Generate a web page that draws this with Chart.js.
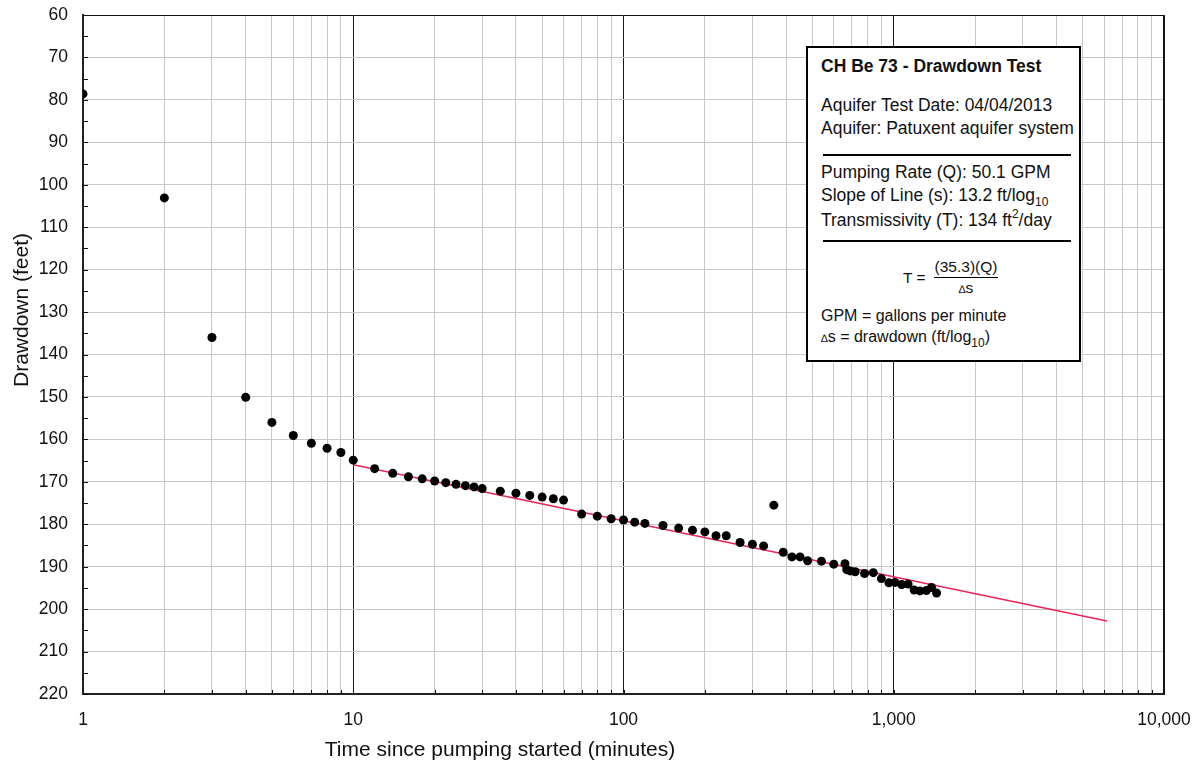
<!DOCTYPE html>
<html>
<head>
<meta charset="utf-8">
<title>CH Be 73 - Drawdown Test</title>
<script src="https://cdn.jsdelivr.net/npm/chart.js@4.4.1/dist/chart.umd.min.js"></script>
<style>
  body { margin: 0; background: #fff; font-family: Arial, "Liberation Sans", sans-serif; }
  #wrap { position: relative; width: 1200px; height: 769px; }
  #infoBox {
    position: absolute; left: 806px; top: 46px; width: 275px; height: 316px;
    box-sizing: border-box; border: 2px solid #000; background: #fff; color: #111;
  }
  #infoBox .ln { position: absolute; left: 13px; white-space: nowrap; font-size: 17.5px; line-height: 22px; }
  #infoBox .sm { font-size: 16px; line-height: 20px; }
  #infoBox .b { font-weight: bold; }
  #infoBox .rule { position: absolute; left: 15px; width: 248px; height: 2px; background: #000; }
  #infoBox sub, #infoBox sup { font-size: 12px; line-height: 0; }
  #infoBox sub { vertical-align: -5px; }
  #infoBox sup { vertical-align: 8px; }
  .frac { position: absolute; font-size: 15.5px; line-height: 18px; white-space: nowrap; }
  .tri { font-size: 11px; }
</style>
</head>
<body>
<div id="wrap">
  <canvas id="drawdownChart"></canvas>
  <div id="infoBox">
    <div class="ln b" style="top:7px">CH Be 73 - Drawdown Test</div>
    <div class="ln" style="top:46px">Aquifer Test Date: 04/04/2013</div>
    <div class="ln" style="top:69px">Aquifer: Patuxent aquifer system</div>
    <div class="rule" style="top:106px"></div>
    <div class="ln" style="top:113px">Pumping Rate (Q): 50.1 GPM</div>
    <div class="ln" style="top:136px">Slope of Line (s): 13.2 ft/log<sub>10</sub></div>
    <div class="ln" style="top:161px">Transmissivity (T): 134 ft<sup>2</sup>/day</div>
    <div class="rule" style="top:192px"></div>
    <div class="frac" style="top:221px; left:95px">T =</div>
    <div class="frac" style="top:210px; left:126px; width:64px; text-align:center">(35.3)(Q)</div>
    <div style="position:absolute; top:229px; left:126px; width:64px; height:1px; background:#000"></div>
    <div class="frac" style="top:231px; left:126px; width:64px; text-align:center"><span class="tri">&#8710;</span>s</div>
    <div class="ln sm" style="top:258px">GPM = gallons per minute</div>
    <div class="ln sm" style="top:279px"><span class="tri">&#8710;</span>s = drawdown (ft/log<sub>10</sub>)</div>
  </div>
</div>
<script>
// measured drawdown, time in minutes since pumping started
const timeMinutes = [
  1, 2, 3, 4, 5, 6, 7, 8, 9, 10,
  12, 14, 16, 18, 20, 22, 24, 26, 28, 30,
  35, 40, 45, 50, 55, 60, 70, 80, 90, 100,
  110, 120, 140, 160, 180, 200, 220, 240, 270, 300,
  330, 360, 390, 420, 450, 480, 540, 600, 660, 670,
  690, 720, 780, 840, 900, 960, 1010, 1070, 1130, 1190,
  1250, 1320, 1380, 1440
];
const drawdownFeet = [
  78.6, 103.1, 136.0, 150.1, 156.0, 159.1, 160.9, 162.1, 163.1, 164.9,
  166.9, 168.0, 168.8, 169.3, 169.8, 170.2, 170.6, 170.9, 171.2, 171.6,
  172.2, 172.7, 173.2, 173.6, 174.0, 174.3, 177.6, 178.1, 178.7, 179.0,
  179.5, 179.8, 180.3, 180.9, 181.4, 181.8, 182.7, 182.7, 184.3, 184.7,
  185.1, 175.5, 186.6, 187.7, 187.7, 188.6, 188.7, 189.4, 189.3, 190.7,
  191.0, 191.2, 191.6, 191.4, 192.8, 193.8, 193.7, 194.2, 194.1, 195.5,
  195.7, 195.6, 194.9, 196.2
];

// straight-line fit (13.2 ft per log cycle)
const fitTime = [10, 6150];
const fitDrawdown = [166.0, 202.8];

// axis ticks and titles
const xDecades = [1, 10, 100, 1000, 10000];
const yMin = 60, yMax = 220, yStep = 5;
const xTitle = 'Time since pumping started (minutes)';
const yTitle = 'Drawdown (feet)';

const xGridValues = [];
xDecades.forEach(d => {
  for (let m = 1; m <= 9; m++) if (d * m <= 10000) xGridValues.push(d * m);
});

const isDecade = v => Math.abs(Math.log10(v) - Math.round(Math.log10(v))) < 1e-9;
const FONT = 'Arial, "Liberation Sans", sans-serif';

// top/right frame plus the short inward minor ticks
const frameAndTicks = {
  id: 'frameAndTicks',
  beforeDatasetsDraw(chart) {
    const { ctx, chartArea: a, scales } = chart;
    ctx.save();
    ctx.strokeStyle = '#111';
    ctx.lineWidth = 1;
    ctx.beginPath();
    ctx.moveTo(a.left, Math.round(a.top) + 0.5);
    ctx.lineTo(a.right, Math.round(a.top) + 0.5);
    ctx.moveTo(Math.round(a.right) - 0.5, a.top);
    ctx.lineTo(Math.round(a.right) - 0.5, a.bottom);
    scales.y.ticks.forEach(t => {
      const y = Math.round(scales.y.getPixelForValue(t.value)) + 0.5;
      ctx.moveTo(a.left, y);
      ctx.lineTo(a.left + 5, y);
    });
    scales.x.ticks.forEach(t => {
      const x = Math.round(scales.x.getPixelForValue(t.value)) + 0.5;
      ctx.moveTo(x, a.bottom);
      ctx.lineTo(x, a.bottom - 4);
    });
    ctx.stroke();
    ctx.restore();
  },
  // axis titles sit off-centre in the original, so place them by hand
  afterDraw(chart) {
    const { ctx } = chart;
    ctx.save();
    ctx.fillStyle = '#111';
    ctx.font = '21px ' + FONT;
    ctx.textAlign = 'center';
    ctx.textBaseline = 'middle';
    ctx.fillText(xTitle, 500, 750);
    ctx.translate(22, 310);
    ctx.rotate(-Math.PI / 2);
    ctx.fillText(yTitle, 0, 0);
    ctx.restore();
  }
};

const pointData = timeMinutes.map((t, i) => ({ x: t, y: drawdownFeet[i] }));
const fitData = fitTime.map((t, i) => ({ x: t, y: fitDrawdown[i] }));

Chart.defaults.font.family = FONT;
Chart.defaults.color = '#111';

new Chart(document.getElementById('drawdownChart'), {
  type: 'scatter',
  data: {
    datasets: [
      {
        label: 'Drawdown',
        data: pointData,
        pointRadius: 4.5,
        pointBackgroundColor: '#000',
        pointBorderWidth: 0
      },
      {
        label: 'Fit',
        type: 'line',
        data: fitData,
        showLine: true,
        borderColor: '#ee2358',
        borderWidth: 1.5,
        pointRadius: 0,
        fill: false
      }
    ]
  },
  options: {
    responsive: true,
    maintainAspectRatio: false,
    animation: false,
    layout: { padding: { top: 15, right: 36, left: 0, bottom: 0 } },
    plugins: {
      legend: { display: false },
      tooltip: { enabled: false }
    },
    scales: {
      x: {
        type: 'logarithmic',
        min: 1,
        max: 10000,
        afterBuildTicks: scale => {
          scale.ticks = xGridValues.map(v => ({ value: v, major: isDecade(v) }));
        },
        afterFit: scale => {
          scale.height = 75;
          scale.paddingLeft = 0;
          scale.paddingRight = 0;
        },
        grid: {
          drawTicks: false,
          color: c => (c.tick && isDecade(c.tick.value)) ? '#1a1a1a' : '#c8c8c8',
          lineWidth: 1
        },
        border: { color: '#222', width: 2 },
        ticks: {
          autoSkip: false,
          maxRotation: 0,
          padding: 16,
          font: { size: 17.5 },
          callback: v => isDecade(v) ? Number(v).toLocaleString('en-US') : ''
        },
        title: { display: false }
      },
      y: {
        reverse: true,
        min: yMin,
        max: yMax,
        afterFit: scale => {
          scale.width = 83;
          scale.paddingTop = 0;
          scale.paddingBottom = 0;
        },
        grid: {
          drawTicks: false,
          color: c => (c.tick && c.tick.value % 10 === 0) ? '#c8c8c8' : 'rgba(0,0,0,0)',
          lineWidth: 1
        },
        border: { color: '#222', width: 2 },
        ticks: {
          stepSize: yStep,
          autoSkip: false,
          padding: 15,
          font: { size: 17.5 },
          callback: v => v % 10 === 0 ? v : ''
        },
        title: { display: false }
      }
    }
  },
  plugins: [frameAndTicks]
});
</script>
</body>
</html>
